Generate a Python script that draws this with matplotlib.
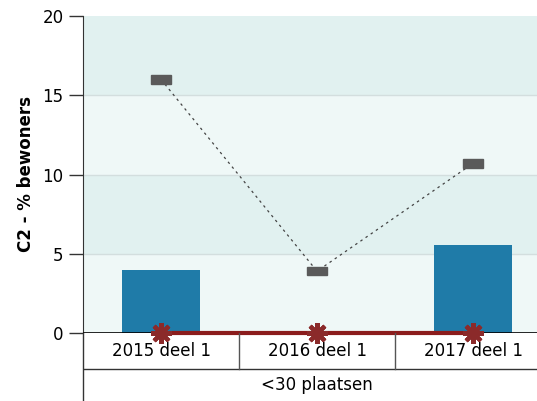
import matplotlib.pyplot as plt
import numpy as np

categories = ['2015 deel 1', '2016 deel 1', '2017 deel 1']
group_label = '<30 plaatsen'
bar_values = [4.0, np.nan, 5.55]
gray_values = [16.0, 3.9, 10.7]
red_values = [0.0, 0.0, 0.0]
y_ticks = [0, 5, 10, 15, 20]

W, H = 537, 401
fig = plt.figure(figsize=(W / 100, H / 100), dpi=100)

# plot area (pixels -> figure fraction)
x0, x1 = 83, 551
y_top, y_zero = 16, 333
ax = fig.add_axes([x0 / W, 1 - y_zero / H, (x1 - x0) / W, (y_zero - y_top) / H])

x = np.arange(len(categories))
ax.set_xlim(-0.5, len(categories) - 0.5)
ax.set_ylim(0, 20)

# alternating bands
band_colors = ['#eff8f7', '#e1f1f0']
for i in range(4):
    ax.axhspan(i * 5, (i + 1) * 5, color=band_colors[i % 2], zorder=0, lw=0)
for t in y_ticks[1:-1]:
    ax.axhline(t, color='#d3dede', lw=1, zorder=1)

ax.bar(x, bar_values, width=0.5, color='#1f7ba8', zorder=2)

ax.plot(x, gray_values, ls=(0, (2, 3)), color='#444444', lw=0.9, zorder=3)
for xi, v in zip(x, gray_values):
    ax.add_patch(plt.Rectangle((xi - 0.067, v - 0.27), 0.134, 0.54,
                               color='#5a5a5a', zorder=4))

ax.axhline(0, color='black', lw=1.2, zorder=4.5)
ax.plot(x, red_values, color='#8b1c1c', lw=3, zorder=5, clip_on=False)
ax.plot(x, red_values, ls='none', marker='D', ms=8, color='#3fb8c4',
        zorder=5.5, clip_on=False)
ax.plot(x, red_values, ls='none', marker=(8, 2, 0), ms=15, mew=3,
        color='#8b2a2a', zorder=6, clip_on=False)
ax.plot(x, red_values, ls='none', marker='o', ms=6, color='#8b2a2a',
        zorder=6, clip_on=False)

ax.set_yticks(y_ticks)
ax.set_xticks([])
ax.tick_params(axis='y', length=10, width=1, labelsize=12, pad=4, color='#333333')
for s in ['top', 'right', 'bottom']:
    ax.spines[s].set_visible(False)
ax.spines['left'].set_color('#333333')

ax.set_ylabel('C2 - % bewoners', fontsize=12, fontweight='bold', labelpad=5)

# category table below the axis
tab = fig.add_axes([x0 / W, 0, (x1 - x0) / W, (H - y_zero) / H])
tab.set_xlim(-0.5, len(categories) - 0.5)
tab.set_ylim(0, H - y_zero)
tab.axis('off')
row1 = H - 369
for xi, c in zip(x, categories):
    tab.text(xi, (row1 + (H - y_zero)) / 2, c, ha='center', va='center', fontsize=12)
tab.text(1, row1 / 2, group_label, ha='center', va='center', fontsize=12)
tab.axhline(row1, color='#333333', lw=1)
for b in [0.5, 1.5]:
    tab.plot([b, b], [row1, H - y_zero], color='#555555', lw=1)
tab.plot([-0.5, -0.5], [0, H - y_zero], color='#333333', lw=1, clip_on=False)

fig.savefig('out.png', dpi=100)
